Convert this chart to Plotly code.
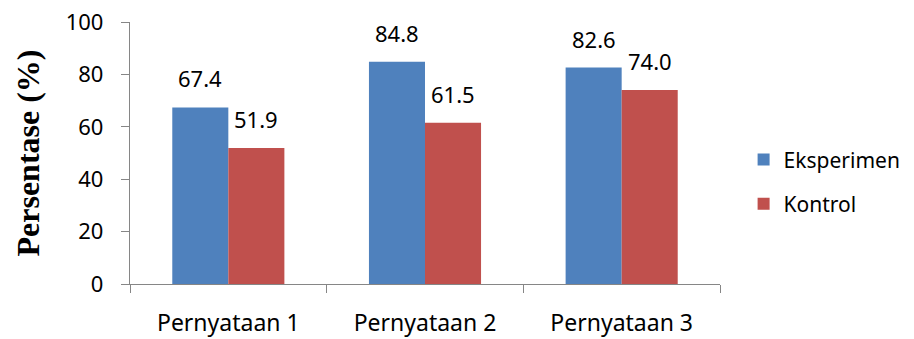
import plotly.graph_objects as go

# Category labels and percentages per group
categories = ["Pernyataan 1", "Pernyataan 2", "Pernyataan 3"]
eksperimen = [67.4, 84.8, 82.6]
kontrol = [51.9, 61.5, 74.0]
series_names = ["Eksperimen", "Kontrol"]
y_ticks = [0, 20, 40, 60, 80, 100]

BLUE = "#4F81BD"
RED = "#C0504D"
AXIS = "#868686"
FONT = "Noto Sans"
FS = 22

fig = go.Figure()
fig.add_trace(go.Bar(name=series_names[0], x=categories, y=eksperimen,
                     marker=dict(color=BLUE, line=dict(width=0)),
                     legendgroup="a"))
fig.add_trace(go.Bar(name=series_names[1], x=categories, y=kontrol,
                     marker=dict(color=RED, line=dict(width=0)),
                     legendgroup="b"))

# Value labels above each bar
bar_px = 56
for vals, shift in ((eksperimen, -bar_px / 2), (kontrol, bar_px / 2)):
    for c, v in zip(categories, vals):
        fig.add_annotation(x=c, y=v, text=f"{v:.1f}", showarrow=False,
                           xshift=shift, yshift=12, yanchor="bottom",
                           font=dict(family=FONT, size=FS, color="#000"))

fig.update_layout(
    width=914, height=339,
    margin=dict(l=130, r=194, t=22, b=55, autoexpand=False),
    paper_bgcolor="white", plot_bgcolor="white",
    barmode="group", bargap=0.43, bargroupgap=0,
    font=dict(family=FONT, size=FS, color="#000"),
    showlegend=True,
    legend=dict(x=1.04, y=0.39, xanchor="left", yanchor="middle",
                traceorder="grouped", tracegroupgap=14,
                font=dict(family=FONT, size=21, color="#000"),
                itemwidth=30),
)
fig.update_xaxes(
    type="category", showline=True, linecolor=AXIS, linewidth=1.3,
    tickson="boundaries", ticks="outside", ticklen=8, tickcolor=AXIS,
    tickwidth=1.3, showgrid=False, zeroline=False, ticklabelstandoff=18,
    tickfont=dict(family=FONT, size=23),
)
fig.update_yaxes(
    range=[0, 100], tickvals=y_ticks, showline=True, linecolor=AXIS,
    linewidth=1.3, ticks="outside", ticklen=8, tickcolor=AXIS, tickwidth=1.3,
    showgrid=False, zeroline=False, ticklabelstandoff=13,
    tickfont=dict(family=FONT, size=FS),
    title=dict(text="<b>Persentase (%)</b>", standoff=16,
               font=dict(family="Liberation Serif", size=32)),
)

fig.write_html("out.html")
